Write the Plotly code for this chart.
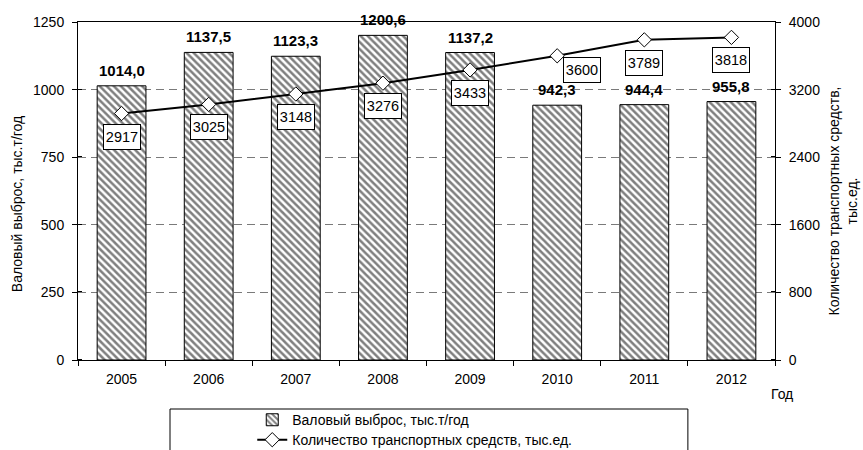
import plotly.graph_objects as go

# Data
years = ["2005", "2006", "2007", "2008", "2009", "2010", "2011", "2012"]
emissions = [1014.0, 1137.5, 1123.3, 1200.6, 1137.2, 942.3, 944.4, 955.8]
vehicles = [2917, 3025, 3148, 3276, 3433, 3600, 3789, 3818]
left_ticks = [0, 250, 500, 750, 1000, 1250]
right_ticks = [0, 800, 1600, 2400, 3200, 4000]

FONT = "Liberation Sans, Arial, sans-serif"


def inner(vals, step):
    # inward half of a cross tick, nudged a hair so it is kept apart from the major tick
    return [v + step for v in vals[:-1]]


fig = go.Figure()

fig.add_trace(go.Bar(
    x=years, y=emissions, name="Валовый выброс, тыс.т/год",
    width=0.56, legend="legend",
    marker=dict(color="white", line=dict(color="black", width=1),
                pattern=dict(shape="\\", fgcolor="black", bgcolor="white",
                             size=5, solidity=0.5)),
    hoverinfo="skip",
))

fig.add_trace(go.Scatter(
    x=years, y=vehicles, yaxis="y2", name="Количество транспортных средств, тыс.ед.",
    mode="lines+markers", legend="legend2",
    line=dict(color="black", width=2),
    marker=dict(symbol="diamond", size=11, color="white",
                line=dict(color="black", width=1)),
    hoverinfo="skip",
))

annotations = []
# bold value labels above bars (x given as category index)
for i, v in enumerate(emissions):
    annotations.append(dict(
        x=i, y=v, xref="x", yref="y", text="<b>" + f"{v:.1f}".replace(".", ",") + "</b>",
        showarrow=False, yanchor="bottom", yshift=5,
        font=dict(family=FONT, size=15, color="black"),
    ))
# boxed labels for the vehicle count
for i, v in enumerate(vehicles):
    xs, ys = (25, -14) if years[i] == "2010" else (0, -23)
    annotations.append(dict(
        x=i, y=v, xref="x", yref="y2", text=str(v),
        showarrow=False, xshift=xs, yshift=ys, width=34, height=22,
        bgcolor="white", bordercolor="black", borderwidth=1, borderpad=1,
        font=dict(family=FONT, size=14.5, color="black"),
    ))
# axis titles
annotations.append(dict(
    x=-0.088, y=0.46, xref="paper", yref="paper", xanchor="center", yanchor="middle",
    text="Валовый выброс, тыс.т/год",
    textangle=-90, showarrow=False, font=dict(family=FONT, size=14, color="black"),
))
annotations.append(dict(
    x=1.098, y=0.47, xref="paper", yref="paper", xanchor="center", yanchor="middle",
    text="Количество транспортных средств,<br>тыс.ед.",
    textangle=-90, showarrow=False, font=dict(family=FONT, size=14, color="black"),
))
annotations.append(dict(
    x=1.01, y=-0.10, xref="paper", yref="paper", xanchor="center", yanchor="middle",
    text="Год",
    showarrow=False, font=dict(family=FONT, size=14, color="black"),
))

shapes = [dict(
    type="rect", xref="paper", yref="paper",
    x0=0.132, x1=0.875, y0=-0.145, y1=-0.40,
    line=dict(color="black", width=1), fillcolor="rgba(0,0,0,0)",
)]

legend_style = dict(xanchor="left", yanchor="middle", bgcolor="rgba(0,0,0,0)",
                    borderwidth=0, font=dict(family=FONT, size=14, color="black"))

fig.update_layout(
    width=863, height=450,
    margin=dict(l=78, r=88, t=22, b=90, autoexpand=False),
    paper_bgcolor="white", plot_bgcolor="white",
    font=dict(family=FONT, size=14, color="black"),
    showlegend=True,
    legend=dict(x=0.25, y=-0.178, **legend_style),
    legend2=dict(x=0.25, y=-0.237, **legend_style),
    xaxis=dict(
        type="category", range=[-0.5, 7.5],
        showline=True, linecolor="black", linewidth=1, mirror=True,
        ticks="outside", ticklen=5, tickcolor="black", tickson="boundaries",
        showgrid=False, ticklabelstandoff=6,
    ),
    yaxis=dict(
        range=[0, 1250], tickmode="array", tickvals=left_ticks,
        showline=True, linecolor="black", linewidth=1,
        ticks="outside", ticklen=5, tickcolor="black",
        minor=dict(tickmode="array", tickvals=inner(left_ticks, 1.5), ticks="inside",
                   ticklen=4, tickcolor="black", tickwidth=1, showgrid=False),
        showgrid=True, gridcolor="#7a7a7a", griddash="8px,5px", gridwidth=1,
        zeroline=False, ticklabelstandoff=5,
    ),
    yaxis2=dict(
        range=[0, 4000], tickmode="array", tickvals=right_ticks, overlaying="y", side="right",
        showline=True, linecolor="black", linewidth=1,
        ticks="outside", ticklen=5, tickcolor="black",
        minor=dict(tickmode="array", tickvals=inner(right_ticks, 5), ticks="inside",
                   ticklen=4, tickcolor="black", tickwidth=1, showgrid=False),
        showgrid=False, zeroline=False, ticklabelstandoff=5,
    ),
    annotations=annotations,
    shapes=shapes,
)

fig.write_html("out.html")
